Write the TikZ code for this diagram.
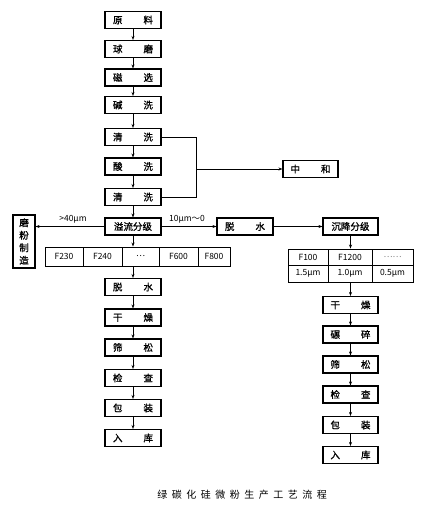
\documentclass[tikz,border=0pt]{standalone}
\usepackage{fontspec}
\setmainfont{Noto Sans CJK SC}
\newfontfamily\cjkb{Noto Sans CJK SC}[FakeBold=1]
\usetikzlibrary{arrows.meta,calc}
\newcommand\tw[2]{#1\hspace{21pt}#2}
\newcommand\cspc{\hspace{4.5pt}}
\begin{document}
\begin{tikzpicture}[x=1pt,y=-1pt,
 box/.style={draw,line width=1.1pt,minimum width=56pt,minimum height=17pt,inner sep=0pt,font=\cjkb\fontsize{9.5}{10}\selectfont},
 cell/.style={draw,line width=0.9pt,inner sep=0pt,font=\fontsize{8.5}{9}\selectfont},
 arr/.style={line width=0.6pt,-{Stealth[length=4pt,width=3pt]}},
 ln/.style={line width=0.6pt},
 lab/.style={font=\fontsize{8.5}{9}\selectfont,inner sep=0pt}]
\useasboundingbox[fill=white] (0,0) rectangle (426,510);
% main column
\node[box] (a1) at (133,20) {\tw{原}{料}};
\node[box] (a2) at (133,49) {\tw{球}{磨}};
\node[box] (a3) at (133,77.5) {\tw{磁}{选}};
\node[box] (a4) at (133,105) {\tw{碱}{洗}};
\node[box] (a5) at (133,137) {\tw{清}{洗}};
\node[box] (a6) at (133,166.5) {\tw{酸}{洗}};
\node[box] (a7) at (133,197) {\tw{清}{洗}};
\node[box] (a8) at (133,226.5) {溢流分级};
% left table
\node[cell,minimum width=38pt,minimum height=19pt] (t1) at (64,256.5) {F230};
\node[cell,minimum width=39pt,minimum height=19pt] (t2) at (102.5,256.5) {F240};
\node[cell,minimum width=37pt,minimum height=19pt] (t3) at (140.5,256.5) {…};
\node[cell,minimum width=39pt,minimum height=19pt] (t4) at (178.5,256.5) {F600};
\node[cell,minimum width=32pt,minimum height=19pt] (t5) at (214,256.5) {F800};
% lower left column
\node[box] (b1) at (133,287) {\tw{脱}{水}};
\node[box] (b2) at (133,317.5) {\tw{干}{燥}};
\node[box] (b3) at (133,347.5) {\tw{筛}{松}};
\node[box] (b4) at (133,378) {\tw{检}{查}};
\node[box] (b5) at (133,408) {\tw{包}{装}};
\node[box] (b6) at (133,438) {\tw{入}{库}};
% left box
\node[box,minimum width=22pt,minimum height=53pt,align=center,font=\cjkb\fontsize{9.5}{12.5}\selectfont] (mf) at (24,241.5) {磨\\粉\\制\\造};
% middle
\node[box] (m1) at (245,226.5) {\tw{脱}{水}};
\node[box,minimum width=55pt] (n) at (310.5,169) {\tw{中}{和}};
% right
\node[box,minimum width=55pt] (r0) at (350.5,226.5) {沉降分级};
\node[cell,minimum width=40pt,minimum height=16pt] (rt1) at (308,257) {F100};
\node[cell,minimum width=44pt,minimum height=16pt] (rt2) at (350,257) {F1200};
\node[cell,minimum width=41pt,minimum height=16pt,text=gray] (rt3) at (392.5,257) {……};
\node[cell,minimum width=40pt,minimum height=17pt] (rb1) at (308,273.5) {1.5μm};
\node[cell,minimum width=44pt,minimum height=17pt] (rb2) at (350,273.5) {1.0μm};
\node[cell,minimum width=41pt,minimum height=17pt] (rb3) at (392.5,273.5) {0.5μm};
\node[box,minimum width=55pt] (r1) at (350.5,305) {\tw{干}{燥}};
\node[box,minimum width=55pt] (r2) at (350.5,334.5) {\tw{碾}{碎}};
\node[box,minimum width=55pt] (r3) at (350.5,364.5) {\tw{筛}{松}};
\node[box,minimum width=55pt] (r4) at (350.5,394.5) {\tw{检}{查}};
\node[box,minimum width=55pt] (r5) at (350.5,425) {\tw{包}{装}};
\node[box,minimum width=55pt] (r6) at (350.5,455) {\tw{入}{库}};
% connectors main
\foreach \u/\v in {a1/a2,a2/a3,a3/a4,a4/a5,a5/a6,a6/a7,a7/a8,b1/b2,b2/b3,b3/b4,b4/b5,b5/b6,r1/r2,r2/r3,r3/r4,r4/r5,r5/r6}
  \draw[arr] (\u.south) -- (\v.north);
\coordinate (j) at (196,169);
\draw[ln] (a5.east) -| (j);
\draw[ln] (a7.east) -| (j);
\draw[arr] (j) -- (n.west);
\draw[arr] (a8.west) -- (a8.west -| mf.east);
\node[lab] (l1) at (73,219) {>40μm};
\draw[arr] (a8.east) -- (m1.west);
\node[lab] (l2) at (187,219) {10μm～0};
\draw[arr] (m1.east) -- (r0.west);
\draw[arr] (a8.south) -- (a8.south |- t3.north);
\draw[arr] (b1.north |- t3.south) -- (b1.north);
\draw[arr] (r0.south) -- (r0.south |- rt2.north);
\draw[arr] (r1.north |- rb2.south) -- (r1.north);
% caption
\node[font=\fontsize{10}{12}\selectfont,inner sep=0pt] (cap) at (242,495) {绿\cspc 碳\cspc 化\cspc 硅\cspc 微\cspc 粉\cspc 生\cspc 产\cspc 工\cspc 艺\cspc 流\cspc 程};
\end{tikzpicture}
\end{document}
